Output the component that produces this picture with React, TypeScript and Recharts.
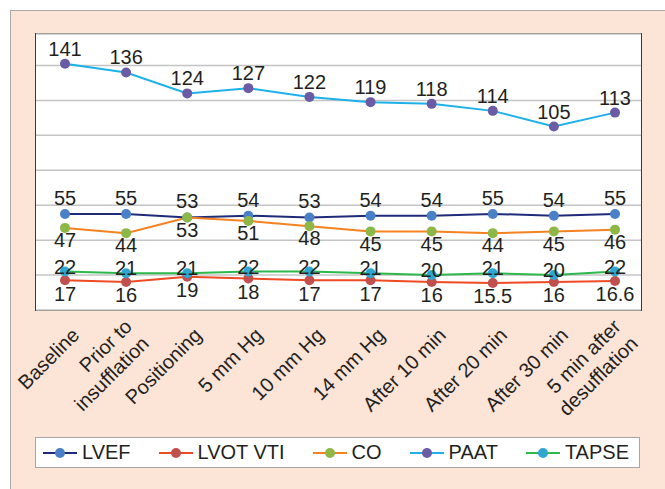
import { LineChart, Line, XAxis, YAxis, CartesianGrid, LabelList } from 'recharts';

const categories = [
  'Baseline',
  'Prior to\ninsufflation',
  'Positioning',
  '5 mm Hg',
  '10 mm Hg',
  '14 mm Hg',
  'After 10 min',
  'After 20 min',
  'After 30 min',
  '5 min after\ndesufflation',
];
const lvef = [55, 55, 53, 54, 53, 54, 54, 55, 54, 55];
const lvotVti = [17, 16, 19, 18, 17, 17, 16, 15.5, 16, 16.6];
const co = [47, 44, 53, 51, 48, 45, 45, 44, 45, 46];
const paat = [141, 136, 124, 127, 122, 119, 118, 114, 105, 113];
const tapse = [22, 21, 21, 22, 22, 21, 20, 21, 20, 22];
const yTicks = [20, 40, 60, 80, 100, 120, 140];

const data = categories.map((name, i) => ({
  name,
  lvef: lvef[i],
  lvotVti: lvotVti[i],
  co: co[i],
  paat: paat[i],
  tapse: tapse[i],
}));

const FONT = '"Liberation Sans", Arial, sans-serif';
const TEXT = '#231f20';

const series = [
  { key: 'lvef', name: 'LVEF', line: '#1f2a78', dot: '#4a80c8', pos: 'top', offset: 9 },
  { key: 'lvotVti', name: 'LVOT VTI', line: '#ef4a24', dot: '#c0504d', pos: 'bottom', offset: 6 },
  { key: 'co', name: 'CO', line: '#f58220', dot: '#8db848', pos: 'bottom', offset: 5 },
  { key: 'paat', name: 'PAAT', line: '#1eb1e9', dot: '#6b5ba4', pos: 'top', offset: 8 },
  { key: 'tapse', name: 'TAPSE', line: '#2db84b', dot: '#2fa7d1', pos: 'top', offset: -2 },
] as const;

function RotatedTick({ x, y, payload }: any) {
  const lines = String(payload.value).split('\n');
  const lh = 24;
  return (
    <g transform={`translate(${x},${y}) rotate(-45)`}>
      <text textAnchor="end" fontSize={20} fontFamily={FONT} fill={TEXT}>
        {lines.map((l, i) => (
          <tspan key={i} x={-2} y={24 + (i - (lines.length - 1) / 2) * lh}>
            {l}
          </tspan>
        ))}
      </text>
    </g>
  );
}

export default function App() {
  return (
    <div style={{ position: 'absolute', left: 0, top: 0, width: 665, height: 489, background: '#fff', overflow: 'hidden' }}>
      <div
        style={{
          position: 'absolute',
          left: 10,
          top: 10,
          width: 700,
          height: 520,
          background: '#fce4d7',
          borderLeft: '1.5px solid #a8a8a8',
          borderTop: '1.5px solid #a8a8a8',
        }}
      />
      <div
        style={{
          position: 'absolute',
          left: 35,
          top: 33,
          width: 607,
          height: 278,
          background: '#fff',
          border: '1.5px solid #3a3a3a',
          boxSizing: 'border-box',
        }}
      />
      <div style={{ position: 'absolute', left: 0, top: 0 }}>
        <LineChart width={665} height={489} data={data} margin={{ top: 34, right: 24, bottom: 59, left: 36 }}>
          <CartesianGrid vertical={false} stroke="#c4c4c4" strokeWidth={1.5} />
          <YAxis hide domain={[0, 158]} ticks={yTicks} />
          <XAxis
            dataKey="name"
            axisLine={false}
            tickLine={false}
            interval={0}
            height={120}
            padding={{ left: 29, right: 26 }}
            tick={<RotatedTick />}
          />
          {series.map((s) => (
            <Line
              key={s.key}
              dataKey={s.key}
              name={s.name}
              stroke={s.line}
              strokeWidth={2}
              dot={{ r: 5, fill: s.dot, stroke: 'none' }}
              activeDot={false}
              isAnimationActive={false}
            >
              <LabelList
                dataKey={s.key}
                position={s.pos}
                offset={s.offset}
                fontSize={20}
                fontFamily={FONT}
                fill={TEXT}
              />
            </Line>
          ))}
        </LineChart>
      </div>
      <div
        style={{
          position: 'absolute',
          left: 35,
          top: 437,
          width: 605,
          height: 31,
          border: '1px solid #a6a6a6',
          background: '#fff',
          boxSizing: 'border-box',
          display: 'flex',
          alignItems: 'center',
          justifyContent: 'flex-start',
          paddingLeft: 7,
          gap: 28,
          fontFamily: FONT,
          fontSize: 20,
          color: TEXT,
        }}
      >
        {series.map((s) => (
          <div key={s.key} style={{ display: 'flex', alignItems: 'center' }}>
            <svg width={34} height={12}>
              <line x1={0} y1={6} x2={34} y2={6} stroke={s.line} strokeWidth={2} />
              <circle cx={17} cy={6} r={5} fill={s.dot} />
            </svg>
            <span style={{ marginLeft: 5 }}>{s.name}</span>
          </div>
        ))}
      </div>
    </div>
  );
}
